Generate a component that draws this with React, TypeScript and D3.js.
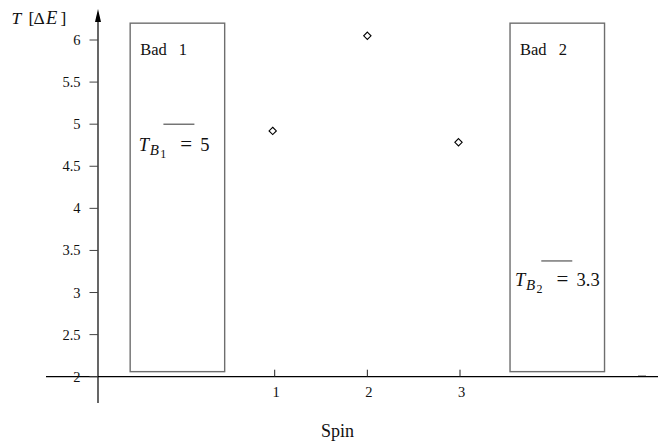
import React from "react";
import * as d3 from "d3";

const spins = [1, 2, 3];
const temps = [4.92, 6.05, 4.785];
const yTicks = [2, 2.5, 3, 3.5, 4, 4.5, 5, 5.5, 6];
const yTickLabels = ["2", "2.5", "3", "3.5", "4", "4.5", "5", "5.5", "6"];
const xTicks = [1, 2, 3];
const bathNames = ["Bad 1", "Bad 2"];
const bathX0 = [-0.56, 3.54];
const bathX1 = [0.46, 4.56];
const bathY0 = [2.06, 2.06];
const bathY1 = [6.2, 6.2];
const bathMean = [5, 3.375];
const bathMeanLabel = ["5", "3.3"];
const bathSub = ["1", "2"];

const W = 658;
const H = 443;

export default function App() {
  const x = d3.scaleLinear().domain([1, 3]).range([274.7, 460]);
  const y = d3.scaleLinear().domain([2, 6]).range([376.7, 40]);
  const axisX = 98;
  const axisY = y(2);
  const font = "'Liberation Serif', 'Times New Roman', serif";
  const diamond = d3.symbol().type(d3.symbolDiamond2).size(34)();
  const grey = "#6e6e6e";

  return (
    <svg width={W} height={H} style={{ position: "absolute", left: 0, top: 0 }} fontFamily={font}>
      <rect width={W} height={H} fill="#fff" />
      {/* baths */}
      {bathNames.map((n, i) => {
        const xa = x(bathX0[i]);
        const xb = x(bathX1[i]);
        const cx = x((bathX0[i] + bathX1[i]) / 2);
        const my = y(bathMean[i]);
        const tx = i === 0 ? xa + 8.5 : xa + 5;
        const by = my + (i === 0 ? 27 : 25.5);
        return (
          <g key={n}>
            <rect x={xa} y={y(bathY1[i])} width={xb - xa} height={y(bathY0[i]) - y(bathY1[i])}
              fill="none" stroke={grey} strokeWidth={1.4} />
            <text x={xa + 10} y={y(bathY1[i]) + 31.5} fontSize={16.5} fill="#111" style={{ wordSpacing: "8px" }}>{n}</text>
            <line x1={cx - 15.5 + (i === 0 ? 1.5 : -0.5)} x2={cx + 15.5 + (i === 0 ? 1.5 : -0.5)} y1={my} y2={my} stroke="#333" strokeWidth={1} />
            <text y={by} fontSize={18.5} fill="#111">
              <tspan x={tx} fontStyle="italic">T</tspan>
              <tspan x={tx + 11} fontStyle="italic" fontSize={15} y={by + 4}>B</tspan>
              <tspan x={tx + 21.5} fontSize={12} y={by + 6.5}>{bathSub[i]}</tspan>
              <tspan x={tx + 41.5} y={by} fontSize={21}>=</tspan>
              <tspan x={tx + 61.5} y={by}>{bathMeanLabel[i]}</tspan>
            </text>
          </g>
        );
      })}
      {/* x axis */}
      <line x1={46} x2={658} y1={axisY} y2={axisY} stroke="#000" strokeWidth={1.2} />
      <line x1={638} x2={646} y1={axisY - 1.2} y2={axisY - 1.2} stroke="#aaa" strokeWidth={1} />
      {xTicks.map((t) => (
        <g key={t}>
          <line x1={x(t)} x2={x(t)} y1={axisY - 7} y2={axisY} stroke="#222" strokeWidth={1} />
          <text x={x(t) + 1.5} y={axisY + 20.5} fontSize={14.5} textAnchor="middle" fill="#111">{t}</text>
        </g>
      ))}
      {/* y axis */}
      <line x1={axisX} x2={axisX} y1={403} y2={20} stroke="#000" strokeWidth={1.2} />
      <path d={`M${axisX},9 L${axisX - 3},22 L${axisX + 3},22 Z`} fill="#000" />
      {yTicks.map((t, i) => (
        <g key={t}>
          <line x1={axisX - 8.5} x2={axisX} y1={y(t)} y2={y(t)} stroke="#444" strokeWidth={1} />
          <text x={axisX - 17.5} y={y(t) + 5} fontSize={14.5} textAnchor="end" fill="#111">{yTickLabels[i]}</text>
        </g>
      ))}
      <text y={24} fontSize={17.5} fill="#111">
        <tspan x={11.5} fontStyle="italic">T</tspan>
        <tspan x={28.5}>[</tspan>
        <tspan x={33.5}>{"\u0394"}</tspan>
        <tspan x={46} fontStyle="italic" fontSize={18.5}>E</tspan>
        <tspan x={60.5}>]</tspan>
      </text>
      {/* points */}
      {spins.map((s, i) => (
        <path key={s} d={diamond} transform={`translate(${x(s) - (i === 0 ? 2 : i === 2 ? 1.5 : 0)},${y(temps[i])})`}
          fill="#fff" stroke="#000" strokeWidth={1.1} />
      ))}
      <text x={337.5} y={437} fontSize={18} textAnchor="middle" fill="#111">Spin</text>
    </svg>
  );
}
